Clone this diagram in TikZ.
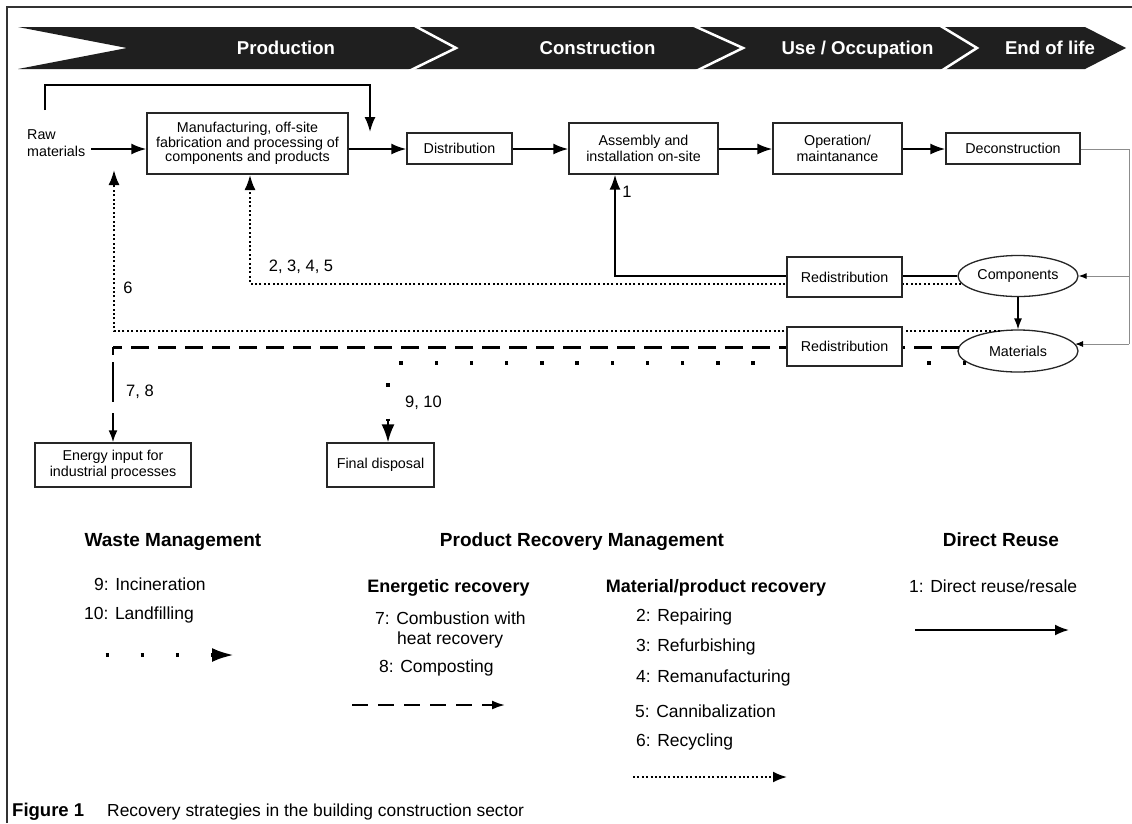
\documentclass[tikz,border=0pt]{standalone}
\usepackage{fontspec}
\setmainfont{Liberation Sans}
\usetikzlibrary{arrows.meta,shapes.geometric,calc}
\newcommand{\fsz}[2]{\fontsize{#1}{#2}\selectfont}
\begin{document}
\begin{tikzpicture}[x=1pt,y=-1pt,
  box/.style={draw=black!85, line width=1.3pt, fill=white, inner sep=0pt, align=center, font=\fsz{14.3}{16}},
  ell/.style={ellipse, draw=black!85, line width=1.3pt, fill=white, inner sep=0pt, font=\fsz{14.3}{16}},
  bandtext/.style={text=white, font=\bfseries\fsz{18.6}{20}, inner sep=0pt, anchor=base},
  flow/.style={line width=2pt, -{Latex[length=15pt,width=11pt]}},
  dotline/.style={line width=2pt, dash pattern=on 2pt off 2.4pt},
  dotarrow/.style={dotline, -{Latex[length=15pt,width=11pt]}},
  dashline/.style={line width=3pt, dash pattern=on 18pt off 9pt},
  sparse/.style={line width=3.5pt, dash pattern=on 3.5pt off 31.7pt},
  grayline/.style={draw=black!45, line width=1pt},
  grayarrow/.style={grayline, -{Latex[length=8pt,width=6pt,color=black]}},
  lbl/.style={inner sep=0pt, font=\fsz{16.5}{18}},
  item/.style={inner sep=0pt, anchor=west, font=\fsz{17.5}{20}},
  head/.style={inner sep=0pt, font=\bfseries\fsz{19}{22}},
  subhead/.style={inner sep=0pt, font=\bfseries\fsz{18}{21}}
]
\useasboundingbox (0,0) rectangle (1132,823);
\fill[white] (0,0) rectangle (1132,823);
% frame
\draw[line width=1.5pt, black!80] (7,823) -- (7,7) -- (1132,7);

% band
\fill[black!88] (18,27) -- (1085,27) -- (1126,48) -- (1085,69) -- (18,69) -- (127,48) -- cycle;
\begin{scope}
\clip (0,27) rectangle (1132,69);
\draw[white, line width=2.5pt] (413,25) -- (456,48) -- (409,71);
\draw[white, line width=2.5pt] (692,25) -- (743,48) -- (696,71);
\draw[white, line width=2.5pt] (939,25) -- (977,48) -- (941,71);
\end{scope}
\node[bandtext] (tprod) at (286,54.5) {Production};
\node[bandtext] (tcons) at (597.5,54.5) {Construction};
\node[bandtext] (tuse) at (857.5,54.5) {Use / Occupation};
\node[bandtext] (tend) at (1050,54.5) {End of life};

% main flow nodes
\node[anchor=west, align=left, inner sep=0pt, font=\fsz{14.3}{17}] (raw) at (27,143.5) {Raw\\materials};
\node[box, minimum width=201pt, minimum height=61pt, font=\fsz{14.3}{14.5}] (manu) at (247.5,143.5) {Manufacturing, off-site\\fabrication and processing of\\components and products};
\node[box, minimum width=105pt, minimum height=31pt] (dist) at (459.5,148.5) {Distribution};
\node[box, minimum width=149pt, minimum height=51pt] (asm) at (643.5,148.5) {Assembly and\\installation on-site};
\node[box, minimum width=129pt, minimum height=51pt] (op) at (837.5,148.5) {Operation/\\maintanance};
\node[box, minimum width=134pt, minimum height=31pt] (dec) at (1013,148.5) {Deconstruction};

\node[ell, minimum width=120pt, minimum height=41pt] (comp) at (1018,276) {Components};
\node[ell, minimum width=120pt, minimum height=42pt] (mat) at (1018,351) {Materials};

\node[box, minimum width=156pt, minimum height=44pt] (energy) at (113,465) {Energy input for\\industrial processes};
\node[box, minimum width=107pt, minimum height=44pt] (final) at (380.5,465) {Final disposal};

% main arrows
\draw[flow] ([xshift=6pt]raw.east |- 0,149) -- (manu.west |- 0,149);
\draw[flow] (manu.east |- 0,149) -- (dist.west |- 0,149);
\draw[flow] (dist.east |- 0,149) -- (asm.west |- 0,149);
\draw[flow] (asm.east |- 0,149) -- (op.west |- 0,149);
\draw[flow] (op.east |- 0,149) -- (dec.west |- 0,149);
\coordinate (bp) at (45,110);
\draw[flow] (bp) -- (45,85) -- (370,85) -- (370,132);

% gray connector from deconstruction
\coordinate (gr) at (1129,149);
\draw[grayline] (dec.east |- 0,149) -- (gr) -- (1129,344);
\draw[grayarrow] (1129,276) -- (comp.east);
\coordinate (matE) at (1075,344);
\draw[grayarrow] (1129,344) -- (matE);
\draw[line width=1.3pt, -{Latex[length=11pt,width=8pt]}] (comp.south) -- (mat.north);

% recovery paths
\coordinate (c1) at (615,276);
\draw[flow] (comp.west) -- (c1) -- (c1 |- asm.south);
\coordinate (c2) at (961,284);
\draw[dotarrow] (c2) -- (250,284) -- (250,175);
\coordinate (c6) at (1000,331);
\draw[dotarrow] (c6) -- (114,331) -- (114,170);
\coordinate (c7) at (959,347);
\draw[dashline] (c7) -- (113,347);
\draw[line width=2pt, dash pattern=on 8pt off 7pt on 40pt off 11pt on 200pt, -{Latex[length=12pt,width=9pt]}] (113,347) -- (energy.north);
\coordinate (c9) at (966,363);
\draw[sparse] (c9) -- (388,363) -- (388,421);
\draw[line width=2pt, -{Latex[length=18pt,width=13pt]}] (388,420) -- (final.north -| 388,0);

% redistribution boxes on top
\node[box, minimum width=115pt, minimum height=40pt] (red1) at (844.5,277) {Redistribution};
\node[box, minimum width=115pt, minimum height=39pt] (red2) at (844.5,346.5) {Redistribution};

% path labels
\node[lbl] (l1) at (627,192) {1};
\node[lbl] (l2) at (301,267) {2, 3, 4, 5};
\node[lbl] (l6) at (128,288) {6};
\node[lbl] (l7) at (140,392) {7, 8};
\node[lbl] (l9) at (423.5,403) {9, 10};

% legend
\node[head] (hw) at (173,542) {Waste Management};
\node[item] (i9) at (94,584) {9: Incineration};
\node[item] (i10) at (84,615) {10: Landfilling};
\coordinate (s1) at (105.5,655);
\coordinate (s2) at (234,655);
\draw[sparse, -{Latex[length=22pt,width=14pt]}] (s1) -- (s2);

\node[head] (hp) at (582,542) {Product Recovery Management};
\node[subhead] (he) at (448.5,588) {Energetic recovery};
\node[item] (i7) at (375,618) {7: Combustion with};
\node[item] (i7b) at (397,640) {heat recovery};
\node[item] (i8) at (379,668) {8: Composting};
\coordinate (d1) at (352,705);
\coordinate (d2) at (505,705);
\draw[line width=2pt, dash pattern=on 16pt off 10pt, -{Latex[length=13pt,width=9pt]}] (d1) -- (d2);

\node[subhead] (hm) at (716,588) {Material/product recovery};
\node[item] (i2) at (636,617) {2: Repairing};
\node[item] (i3) at (636,647) {3: Refurbishing};
\node[item] (i4) at (636,678) {4: Remanufacturing};
\node[item] (i5) at (635,711) {5: Cannibalization};
\node[item] (i6) at (636,742) {6: Recycling};
\coordinate (o1) at (633,777);
\coordinate (o2) at (787,777);
\draw[dotarrow, -{Latex[length=14pt,width=11pt]}] (o1) -- (o2);

\node[head] (hd) at (1001,540) {Direct Reuse};
\node[item] (i1) at (909,586) {1: Direct reuse/resale};
\coordinate (r1) at (915,630);
\coordinate (r2) at (1069,630);
\draw[flow, -{Latex[length=14pt,width=11pt]}] (r1) -- (r2);

% caption
\node[inner sep=0pt, anchor=west, font=\bfseries\fsz{18.5}{20}] (capa) at (12,812) {Figure 1};
\node[inner sep=0pt, anchor=west, font=\fsz{17.4}{20}] (capb) at (107,812) {Recovery strategies in the building construction sector};
\end{tikzpicture}
\end{document}
